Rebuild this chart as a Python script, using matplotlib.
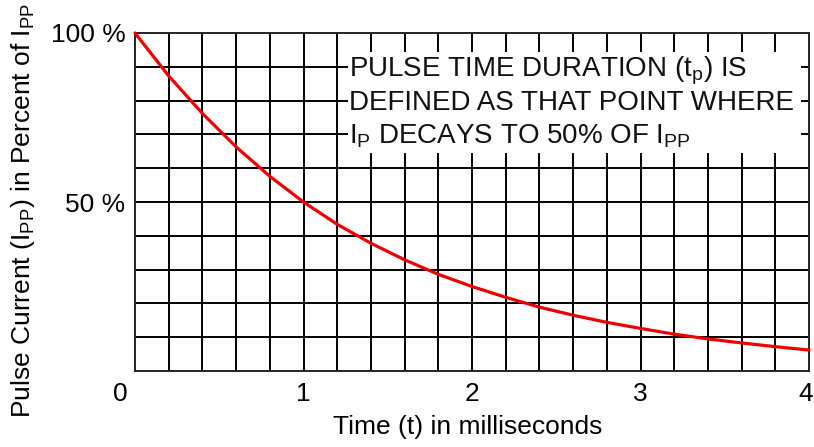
import matplotlib
matplotlib.use("Agg")
import matplotlib.pyplot as plt
import matplotlib.transforms as mtransforms
import numpy as np

plt.rcParams['font.family'] = ['Liberation Sans', 'DejaVu Sans']
plt.rcParams['mathtext.fontset'] = 'custom'
plt.rcParams['mathtext.rm'] = 'Liberation Sans'
plt.rcParams['mathtext.it'] = 'Liberation Sans:italic'
plt.rcParams['mathtext.bf'] = 'Liberation Sans:bold'

# data
time_ms = [0.0, 0.2, 0.4, 0.6, 0.8, 1.0, 1.2, 1.4, 1.6, 1.8, 2.0,
           2.2, 2.4, 2.6, 2.8, 3.0, 3.2, 3.4, 3.6, 3.8, 4.0]
current_pct = [100, 87.3, 76.2, 66.3, 57.6, 50, 43.4, 37.8, 32.9, 28.6, 25.0,
               21.8, 18.9, 16.5, 14.4, 12.6, 10.9, 9.5, 8.3, 7.2, 6.2]

x_ticks = [0, 1, 2, 3, 4]
x_tick_labels = ["0", "1", "2", "3", "4"]
y_ticks = [50, 100]
y_tick_labels = ["50 %", "100 %"]

note_lines = [r"PULSE TIME DURATION (t$_\mathrm{p}$) IS",
              "DEFINED AS THAT POINT WHERE",
              r"I$_\mathrm{P}$ DECAYS TO 50% OF I$_\mathrm{PP}$"]
note_y = [90, 80, 70]

W, H = 814, 447
fig = plt.figure(figsize=(W / 100, H / 100), dpi=100)
ax = fig.add_axes([135 / W, 1 - 371 / H, (809 - 135) / W, (371 - 33) / H])

ax.set_xlim(0, 4)
ax.set_ylim(0, 100)

grid_lw = 1.4
for xv in np.arange(0.2, 3.9, 0.2):
    ax.axvline(xv, color='black', linewidth=grid_lw, zorder=1)
for yv in np.arange(10, 95, 10):
    ax.axhline(yv, color='black', linewidth=grid_lw, zorder=1)
for s in ax.spines.values():
    s.set_linewidth(grid_lw)
    s.set_color('#222222')

label_fs = 19
ax.set_xticks(x_ticks)
ax.set_xticklabels(x_tick_labels, fontsize=label_fs)
ax.set_yticks(y_ticks)
ax.set_yticklabels(y_tick_labels, fontsize=label_fs)
ax.tick_params(which='both', length=0)
ax.tick_params(axis='x', pad=8)
ax.tick_params(axis='y', pad=7)
# shift the "0" label left and the "4" label slightly left
xtl = ax.get_xticklabels()
xtl[0].set_transform(xtl[0].get_transform() +
                     mtransforms.ScaledTranslation(-15 / 100, 0, fig.dpi_scale_trans))
xtl[-1].set_transform(xtl[-1].get_transform() +
                      mtransforms.ScaledTranslation(-3 / 100, 0, fig.dpi_scale_trans))

# white area for the note
ax.fill_between([1.265, 3.955], 64.5, 94.5, color='white', zorder=2, linewidth=0)
for txt, yy in zip(note_lines, note_y):
    ax.text(1.27, yy - 2.8, txt, fontsize=20, va='baseline', ha='left',
            color='#111111', zorder=3)

ax.plot(time_ms, current_pct, color='#ee0000', linewidth=2.3, zorder=4,
        solid_joinstyle='round', solid_capstyle='round', clip_on=False)

fig.text(468 / W, 1 - 427 / H, "Time (t) in milliseconds", fontsize=label_fs,
         ha='center', va='center')
fig.text(23 / W, 1 - 211 / H,
         r"Pulse Current (I$_\mathrm{PP}$) in Percent of I$_\mathrm{PP}$",
         fontsize=label_fs, rotation=90, ha='center', va='center')

fig.savefig("out.png", dpi=100, facecolor='white')
